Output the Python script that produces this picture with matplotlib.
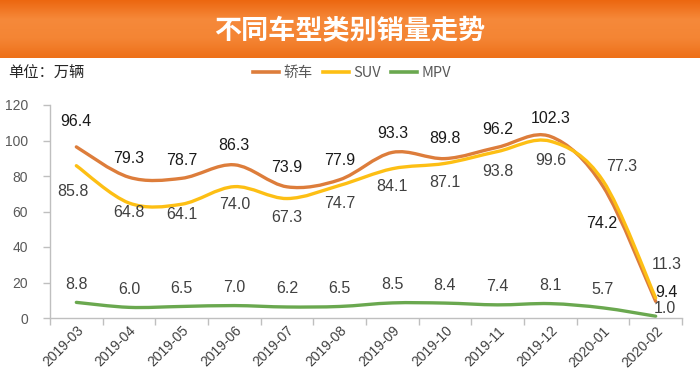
import matplotlib
matplotlib.use('Agg')
import matplotlib.pyplot as plt
import numpy as np
from matplotlib.path import Path
from matplotlib.patches import PathPatch
from matplotlib.lines import Line2D
from matplotlib.colors import LinearSegmentedColormap

plt.rcParams['font.family'] = ['Noto Sans CJK SC', 'DejaVu Sans']

# monthly sales, 10k units
months = ['2019-03', '2019-04', '2019-05', '2019-06', '2019-07', '2019-08',
          '2019-09', '2019-10', '2019-11', '2019-12', '2020-01', '2020-02']
sedan = [96.4, 79.3, 78.7, 86.3, 73.9, 77.9, 93.3, 89.8, 96.2, 102.3, 74.2, 9.4]
suv = [85.8, 64.8, 64.1, 74.0, 67.3, 74.7, 84.1, 87.1, 93.8, 99.6, 77.3, 11.3]
mpv = [8.8, 6.0, 6.5, 7.0, 6.2, 6.5, 8.5, 8.4, 7.4, 8.1, 5.7, 1.0]
names = ['轿车', 'SUV', 'MPV']

# label offsets in pixels (dx, dy)
sedan_off = [(0, 25), (0, 19), (0, 18), (0, 19), (0, 19), (0, 19), (0, 19),
             (0, 20), (0, 18), (0, 18), (-1, -37), (11, 9)]
suv_off = [(-3, -26), (0, -10), (0, -10), (0, -18), (0, -19), (0, -18), (0, -18),
           (0, -19), (0, -20), (0, -19), (19, 14), (11, 33)]
mpv_off = [(0, 18)] * 11 + [(9, 8)]

sans = ['Liberation Sans', 'DejaVu Sans']


def smooth_path(xs, ys):
    pts = np.column_stack([xs, ys])
    verts = [pts[0]]
    codes = [Path.MOVETO]
    n = len(pts)
    for i in range(n - 1):
        p0 = pts[max(i - 1, 0)]
        p1 = pts[i]
        p2 = pts[i + 1]
        p3 = pts[min(i + 2, n - 1)]
        c1 = p1 + (p2 - p0) / 6.0
        c2 = p2 - (p3 - p1) / 6.0
        verts += [c1, c2, p2]
        codes += [Path.CURVE4] * 3
    return Path(verts, codes)


fig = plt.figure(figsize=(7, 3.81), dpi=100)

# title banner
bax = fig.add_axes([0, 1 - 58 / 381, 1, 58 / 381])
cmap = LinearSegmentedColormap.from_list('ban', ['#ec6710', '#f6893a', '#f48534', '#ee7019'])
grad = np.linspace(0, 1, 100).reshape(-1, 1)
bax.imshow(grad, aspect='auto', cmap=cmap, extent=[0, 1, 0, 1])
bax.set_axis_off()
fig.text(0.5, 1 - 31 / 381, '不同车型类别销量走势', ha='center', va='center',
         color='white', fontsize=19.5, fontweight='bold')

fig.text(8 / 700, 1 - 73 / 381, '单位：万辆', ha='left', va='center',
         color='#262626', fontsize=11)

ax = fig.add_axes([50 / 700, 1 - 318 / 381, 632 / 700, 213 / 381])
x = np.arange(len(months)) + 0.5
colors = ['#dd7d3b', '#fdbf14', '#6aa84f']
lab_colors = ['#1a1a1a', '#404040', '#404040']
series = [sedan, suv, mpv]
offs = [sedan_off, suv_off, mpv_off]

for vals, c, lc, off in zip(series, colors, lab_colors, offs):
    patch = PathPatch(smooth_path(x, vals), fill=False, edgecolor=c, lw=2.4,
                      capstyle='round', joinstyle='round')
    ax.add_patch(patch)
    for xi, v, (dx, dy) in zip(x, vals, off):
        ax.annotate(f'{v:.1f}', (xi, v), xytext=(dx * 0.72, dy * 0.72),
                    textcoords='offset points', ha='center', va='center',
                    fontsize=11.5, color=lc, family=sans)

ax.set_xlim(0, len(months))
ax.set_ylim(0, 120)
ax.set_yticks(np.arange(0, 121, 20))
ax.set_xticks(np.arange(0, len(months) + 1))
ax.set_xticklabels([])
ax.set_xticks(x, minor=True)
ax.set_xticklabels(months, minor=True, rotation=45, ha='right',
                   rotation_mode='anchor', fontsize=10, color='#404040',
                   family=sans)
ax.tick_params(axis='x', which='minor', length=0, pad=4)
ax.tick_params(axis='x', which='major', length=5, color='#bfbfbf', width=1)
ax.tick_params(axis='y', length=5, color='#bfbfbf', width=1, labelsize=10,
               labelcolor='#595959', pad=11)
for lbl in ax.get_yticklabels():
    lbl.set_family(sans)
for s in ['top', 'right']:
    ax.spines[s].set_visible(False)
for s in ['left', 'bottom']:
    ax.spines[s].set_color('#bfbfbf')
    ax.spines[s].set_linewidth(1)

handles = [Line2D([0], [0], color=c, lw=2.6) for c in colors]
fig.legend(handles, names, loc='center', bbox_to_anchor=(352 / 700, 1 - 73 / 381),
           ncol=3, frameon=False, fontsize=10.5, handlelength=1.8, handletextpad=0.3,
           columnspacing=0.7, labelcolor='#595959')

fig.savefig('out.png', dpi=100)
